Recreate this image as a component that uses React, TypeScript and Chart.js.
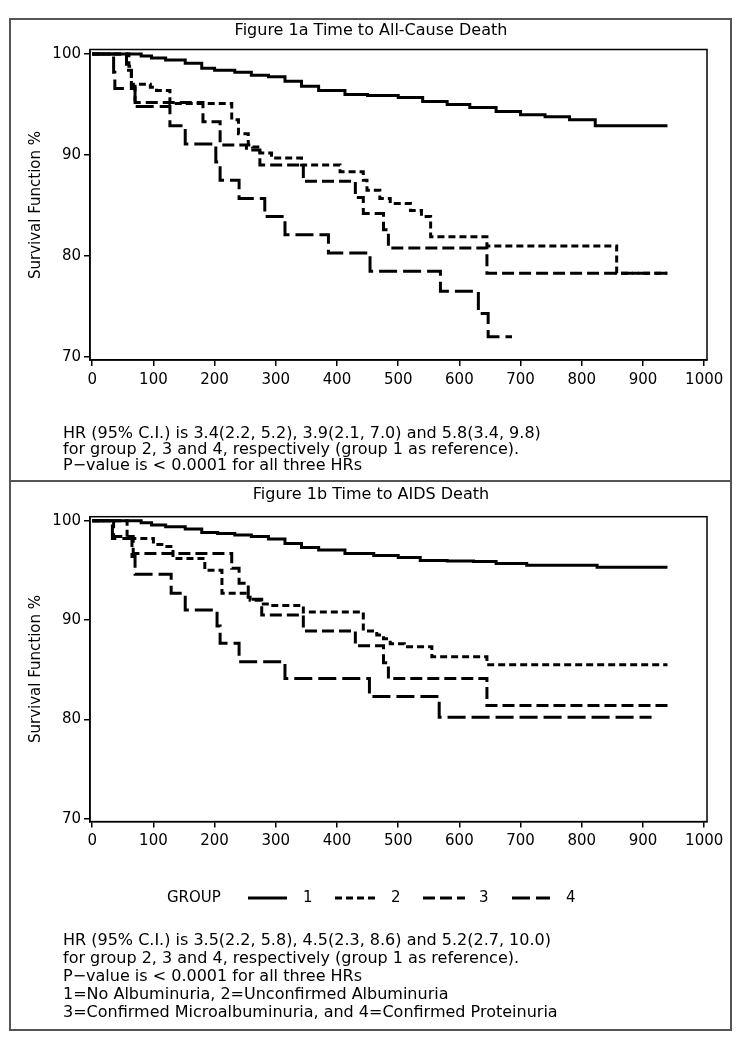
import React, { useEffect, useRef } from "react";
import { Chart, registerables } from "chart.js";

Chart.register(...registerables);

// ---------- tick labels ----------
const xTicks = [0, 100, 200, 300, 400, 500, 600, 700, 800, 900, 1000];
const yTicks = [70, 80, 90, 100];
const groupNames = ["1", "2", "3", "4"];

// ---------- Figure 1a: Time to All-Cause Death ----------
const a1Time = [0, 67, 80, 97, 120, 152, 179, 200, 233, 260, 288, 315, 342, 370, 413, 450, 500, 540, 580, 617, 660, 700, 740, 780, 822, 940];
const a1Surv = [100, 100, 99.8, 99.6, 99.4, 99.1, 98.6, 98.4, 98.2, 97.9, 97.75, 97.3, 96.8, 96.4, 96.0, 95.9, 95.7, 95.3, 95.0, 94.7, 94.3, 94.0, 93.8, 93.5, 92.9, 92.9];

const a2Time = [0, 60, 64, 95, 105, 127, 228, 239, 255, 262, 274, 293, 342, 405, 443, 449, 470, 487, 520, 538, 553, 645, 857, 940];
const a2Surv = [100, 98.8, 97.0, 96.7, 96.4, 95.1, 93.5, 92.1, 91.0, 90.8, 90.2, 89.7, 89.0, 88.35, 87.5, 86.5, 85.7, 85.2, 84.5, 83.9, 81.9, 81.0, 78.3, 78.3];

const a3Time = [0, 56, 64, 70, 181, 209, 252, 274, 345, 430, 443, 476, 484, 645, 940];
const a3Surv = [100, 98.4, 96.8, 95.2, 93.3, 91.0, 90.5, 89.0, 87.4, 85.8, 84.2, 82.6, 80.8, 78.3, 78.3];

const a4Time = [0, 35, 37, 70, 127, 152, 202, 209, 240, 282, 315, 386, 454, 569, 631, 647, 686];
const a4Surv = [100, 98.2, 96.6, 94.8, 92.9, 91.1, 89.3, 87.5, 85.7, 83.9, 82.1, 80.3, 78.5, 76.5, 74.3, 72.0, 72.0];

// ---------- Figure 1b: Time to AIDS Death ----------
const b1Time = [0, 67, 80, 97, 120, 152, 179, 205, 233, 260, 288, 315, 342, 370, 413, 460, 500, 536, 580, 623, 660, 710, 825, 940];
const b1Surv = [100, 100, 99.8, 99.57, 99.4, 99.16, 98.8, 98.7, 98.56, 98.4, 98.16, 97.7, 97.3, 97.05, 96.7, 96.5, 96.3, 96.0, 95.95, 95.9, 95.7, 95.5, 95.3, 95.3];

const b2Time = [0, 57, 100, 118, 132, 184, 212, 250, 258, 275, 290, 345, 443, 465, 476, 487, 510, 555, 645, 940];
const b2Surv = [100, 98.2, 97.6, 97.4, 96.2, 95.0, 92.7, 92.3, 92.0, 91.6, 91.45, 90.8, 88.9, 88.5, 88.1, 87.6, 87.3, 86.3, 85.5, 85.5];

const b3Time = [0, 35, 67, 228, 240, 255, 277, 345, 430, 476, 484, 645, 940];
const b3Surv = [100, 98.4, 96.7, 95.2, 93.7, 92.1, 90.5, 88.9, 87.4, 85.7, 84.1, 81.4, 81.4];

const b4Time = [0, 33, 65, 70, 129, 152, 204, 209, 240, 315, 453, 567, 914];
const b4Surv = [100, 98.2, 96.4, 94.6, 92.7, 91.0, 89.4, 87.65, 85.8, 84.1, 82.3, 80.2, 80.2];

// ---------- styles ----------
const FONT = '"DejaVu Sans", "Liberation Sans", sans-serif';
const DASHES: number[][] = [[], [7, 4], [12, 5], [18, 6]];
const LINE_W = 3;

type Series = { t: number[]; s: number[] };

const frameRect = {
  id: "frameRect",
  afterDatasetsDraw(chart: any) {
    const { ctx, chartArea: a } = chart;
    ctx.save();
    ctx.strokeStyle = "#000";
    ctx.lineWidth = 1.5;
    ctx.setLineDash([]);
    ctx.strokeRect(a.left, a.top, a.right - a.left, a.bottom - a.top);
    ctx.restore();
  },
};

function makeLegend(yCenter: number) {
  return {
    id: "groupLegend",
    afterDraw(chart: any) {
      const ctx = chart.ctx as CanvasRenderingContext2D;
      ctx.save();
      ctx.fillStyle = "#000";
      ctx.font = `15px ${FONT}`;
      ctx.textBaseline = "middle";
      ctx.textAlign = "left";
      ctx.fillText("GROUP", 167, yCenter);
      const starts = [248, 335, 423, 512];
      const ends = [287, 377, 465, 550];
      const labelX = [303, 391, 479, 566];
      for (let i = 0; i < 4; i++) {
        ctx.beginPath();
        ctx.setLineDash(DASHES[i]);
        ctx.lineWidth = LINE_W;
        ctx.strokeStyle = "#000";
        ctx.moveTo(starts[i], yCenter);
        ctx.lineTo(ends[i], yCenter);
        ctx.stroke();
        ctx.setLineDash([]);
        ctx.fillText(groupNames[i], labelX[i], yCenter);
      }
      ctx.restore();
    },
  };
}

function Panel(props: {
  top: number;
  height: number;
  plotTop: number;
  plotBottom: number;
  yMin: number;
  yMax: number;
  series: Series[];
  legendY?: number;
}) {
  const ref = useRef<HTMLCanvasElement | null>(null);
  useEffect(() => {
    if (!ref.current) return;
    const { height, plotTop, plotBottom, series, legendY, yMin, yMax } = props;
    const datasets = series.map((sr, i) => ({
      label: groupNames[i],
      data: sr.t.map((t, k) => ({ x: t, y: sr.s[k] })),
      borderColor: "#000",
      borderWidth: LINE_W,
      borderDash: DASHES[i],
      borderCapStyle: "butt" as const,
      stepped: true,
      pointRadius: 0,
      fill: false,
      tension: 0,
    }));
    const plugins: any[] = [frameRect];
    if (legendY !== undefined) plugins.push(makeLegend(legendY));
    const chart = new Chart(ref.current, {
      type: "line",
      data: { datasets },
      options: {
        animation: false,
        responsive: false,
        devicePixelRatio: 1,
        layout: { padding: { top: plotTop, right: 744 - 707, left: 0, bottom: 0 } },
        plugins: { legend: { display: false }, title: { display: false }, tooltip: { enabled: false } },
        scales: {
          x: {
            type: "linear",
            min: -3.6,
            max: 1004.6,
            afterBuildTicks: (s: any) => {
              s.ticks = xTicks.map((v) => ({ value: v }));
            },
            afterFit: (s: any) => {
              s.height = height - plotBottom;
            },
            grid: { display: true, drawOnChartArea: false, drawTicks: true, tickLength: 6, color: "#000", lineWidth: 1.5 },
            border: { display: true, color: "#000", width: 1.5 },
            ticks: {
              color: "#000",
              font: { family: FONT, size: 15 },
              padding: 5,
              maxRotation: 0,
              autoSkip: false,
              callback: (v: any) => String(v),
            },
          },
          y: {
            type: "linear",
            min: yMin,
            max: yMax,
            afterBuildTicks: (s: any) => {
              s.ticks = yTicks.map((v) => ({ value: v }));
            },
            afterFit: (s: any) => {
              s.width = 90;
            },
            grid: { display: true, drawOnChartArea: false, drawTicks: true, tickLength: 6, color: "#000", lineWidth: 1.5 },
            border: { display: true, color: "#000", width: 1.5 },
            ticks: {
              color: "#000",
              font: { family: FONT, size: 15 },
              padding: 3,
              autoSkip: false,
              callback: (v: any) => String(v),
            },
          },
        },
      },
      plugins,
    });
    return () => chart.destroy();
  }, []);
  return (
    <canvas
      ref={ref}
      width={744}
      height={props.height}
      style={{ position: "absolute", left: 0, top: props.top, width: 744, height: props.height }}
    />
  );
}

const textStyle: React.CSSProperties = {
  position: "absolute",
  fontFamily: FONT,
  fontSize: 16,
  color: "#000",
  whiteSpace: "nowrap",
  lineHeight: "18px",
};

function TextLine(props: { x: number; cy: number; children: React.ReactNode }) {
  return <div style={{ ...textStyle, left: props.x, top: props.cy - 9 }}>{props.children}</div>;
}

function YTitle(props: { cy: number }) {
  return (
    <div
      style={{
        ...textStyle,
        fontSize: 15,
        left: 35,
        top: props.cy,
        transform: "translate(-50%, -50%) rotate(-90deg)",
      }}
    >
      Survival Function %
    </div>
  );
}

export default function App() {
  const seriesA: Series[] = [
    { t: a1Time, s: a1Surv },
    { t: a2Time, s: a2Surv },
    { t: a3Time, s: a3Surv },
    { t: a4Time, s: a4Surv },
  ];
  const seriesB: Series[] = [
    { t: b1Time, s: b1Surv },
    { t: b2Time, s: b2Surv },
    { t: b3Time, s: b3Surv },
    { t: b4Time, s: b4Surv },
  ];
  return (
    <div style={{ position: "absolute", left: 0, top: 0, width: 744, height: 1050, background: "#fff", overflow: "hidden" }}>
      <Panel top={0} height={480} plotTop={49.5} plotBottom={360} yMin={69.7} yMax={100.45} series={seriesA} />
      <Panel top={482} height={440} plotTop={34.7} plotBottom={339.6} yMin={69.7} yMax={100.4} series={seriesB} legendY={898 - 482} />

      {/* outer frame and divider */}
      <div style={{ position: "absolute", left: 9, top: 18, width: 723, height: 1013, border: "2px solid #555", boxSizing: "border-box" }} />
      <div style={{ position: "absolute", left: 9, top: 480, width: 723, height: 2, background: "#555" }} />

      {/* titles */}
      <div style={{ ...textStyle, left: 0, width: 742, textAlign: "center", top: 30 - 9 }}>Figure 1a Time to All-Cause Death</div>
      <div style={{ ...textStyle, left: 0, width: 742, textAlign: "center", top: 494 - 9 }}>Figure 1b Time to AIDS Death</div>

      <YTitle cy={205} />
      <YTitle cy={669} />

      {/* notes, panel a */}
      <TextLine x={63} cy={433}>HR (95% C.I.) is 3.4(2.2, 5.2), 3.9(2.1, 7.0) and 5.8(3.4, 9.8)</TextLine>
      <TextLine x={63} cy={449}>for group 2, 3 and 4, respectively (group 1 as reference).</TextLine>
      <TextLine x={63} cy={465}>P−value is &lt; 0.0001 for all three HRs</TextLine>

      {/* notes, panel b */}
      <TextLine x={63} cy={940}>HR (95% C.I.) is 3.5(2.2, 5.8), 4.5(2.3, 8.6) and 5.2(2.7, 10.0)</TextLine>
      <TextLine x={63} cy={958}>for group 2, 3 and 4, respectively (group 1 as reference).</TextLine>
      <TextLine x={63} cy={976}>P−value is &lt; 0.0001 for all three HRs</TextLine>
      <TextLine x={63} cy={994}>1=No Albuminuria, 2=Unconfirmed Albuminuria</TextLine>
      <TextLine x={63} cy={1012}>3=Confirmed Microalbuminuria, and 4=Confirmed Proteinuria</TextLine>
    </div>
  );
}
